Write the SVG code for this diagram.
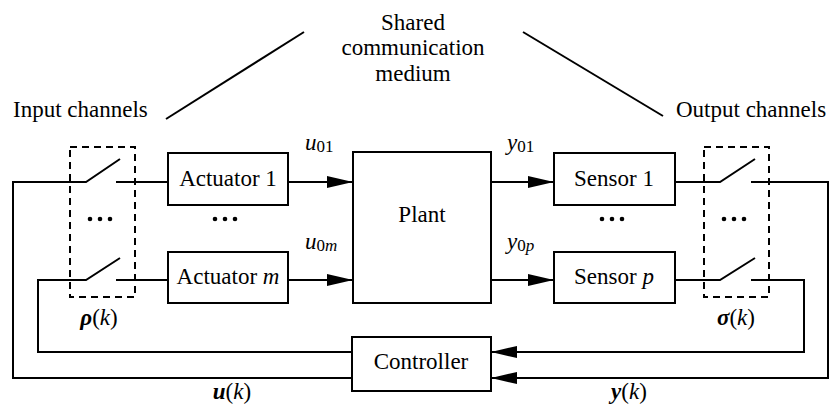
<svg xmlns="http://www.w3.org/2000/svg" width="832" height="405" viewBox="0 0 832 405">
<style>
text{font-family:'Liberation Serif';font-size:23px;fill:#000}
.box{fill:#fff;stroke:#000;stroke-width:2}
.w{fill:none;stroke:#000;stroke-width:2}
.dash{fill:none;stroke:#000;stroke-width:2;stroke-dasharray:7,5}
.i{font-style:italic}
.bi{font-style:italic;font-weight:bold}
.sub{font-size:17px}
.c{text-anchor:middle}
</style>
<defs>
<marker id="ah" markerUnits="userSpaceOnUse" markerWidth="26" markerHeight="12" refX="26" refY="6" orient="auto">
<path d="M0,0 L26,6 L0,12 Z" fill="#000"/>
</marker>
</defs>
<rect width="832" height="405" fill="#fff"/>
<g id="medium-lines">
<line class="w" x1="166" y1="119" x2="304" y2="32"/>
<line class="w" x1="523" y1="32" x2="663" y2="116"/>
</g>
<g id="labels-top">
<text class="c" x="413" y="30">Shared</text>
<text class="c" x="413" y="55">communication</text>
<text class="c" x="413" y="81">medium</text>
<text x="13" y="117">Input channels</text>
<text x="676" y="117">Output channels</text>
</g>
<g id="input-channels">
<rect class="dash" x="70" y="147" width="65" height="150"/>
<circle cx="90" cy="219" r="2.3"/><circle cx="100" cy="219" r="2.3"/><circle cx="110" cy="219" r="2.3"/>
<text class="c" x="99" y="325"><tspan class="bi">ρ</tspan>(<tspan class="i">k</tspan>)</text>
</g>
<g id="output-channels">
<rect class="dash" x="704" y="147" width="65" height="150"/>
<circle cx="724" cy="219" r="2.3"/><circle cx="734" cy="219" r="2.3"/><circle cx="744" cy="219" r="2.3"/>
<text class="c" x="736" y="325"><tspan class="bi">σ</tspan>(<tspan class="i">k</tspan>)</text>
</g>
<g id="actuator1">
<rect class="box" x="168" y="153" width="120" height="52"/>
<text class="c" x="228" y="186">Actuator 1</text>
</g>
<g id="actuator-dots">
<circle cx="215" cy="219" r="2.3"/><circle cx="225" cy="219" r="2.3"/><circle cx="235" cy="219" r="2.3"/>
</g>
<g id="actuatorm">
<rect class="box" x="168" y="252" width="120" height="51"/>
<text class="c" x="228" y="284">Actuator <tspan class="i">m</tspan></text>
</g>
<g id="plant">
<rect class="box" x="353" y="152" width="138" height="151"/>
<text class="c" x="422" y="222">Plant</text>
</g>
<g id="sensor1">
<rect class="box" x="554" y="153" width="121" height="52"/>
<text class="c" x="614" y="186">Sensor 1</text>
</g>
<g id="sensor-dots">
<circle cx="602" cy="219" r="2.3"/><circle cx="612" cy="219" r="2.3"/><circle cx="622" cy="219" r="2.3"/>
</g>
<g id="sensorp">
<rect class="box" x="554" y="252" width="121" height="51"/>
<text class="c" x="614" y="284">Sensor <tspan class="i">p</tspan></text>
</g>
<g id="controller">
<rect class="box" x="352" y="337" width="139" height="54"/>
<text class="c" x="421" y="369">Controller</text>
</g>
<g id="connectors">
<polyline class="w" points="352,378 13,378 13,182 86,182 120,159"/>
<line class="w" x1="116" y1="182" x2="168" y2="182"/>
<polyline class="w" points="352,352 38,352 38,280 86,280 120,258"/>
<line class="w" x1="116" y1="280" x2="168" y2="280"/>
<line class="w" x1="288" y1="182" x2="353" y2="182" marker-end="url(#ah)"/>
<line class="w" x1="288" y1="280" x2="353" y2="280" marker-end="url(#ah)"/>
<line class="w" x1="491" y1="182" x2="554" y2="182" marker-end="url(#ah)"/>
<line class="w" x1="491" y1="280" x2="554" y2="280" marker-end="url(#ah)"/>
<polyline class="w" points="675,182 720,182 755,159"/>
<polyline class="w" points="751,182 828,182 828,378 491,378" marker-end="url(#ah)"/>
<polyline class="w" points="675,280 720,280 755,258"/>
<polyline class="w" points="751,280 804,280 804,352 491,352" marker-end="url(#ah)"/>
</g>
<g id="signal-labels">
<text x="305" y="150"><tspan class="i">u</tspan><tspan class="sub" dy="2">01</tspan></text>
<text x="305" y="249"><tspan class="i">u</tspan><tspan class="sub" dy="2">0</tspan><tspan class="sub i">m</tspan></text>
<text x="507" y="150"><tspan class="i">y</tspan><tspan class="sub" dy="2">01</tspan></text>
<text x="507" y="249"><tspan class="i">y</tspan><tspan class="sub" dy="2">0</tspan><tspan class="sub i">p</tspan></text>
<text class="c" x="232" y="399"><tspan class="bi">u</tspan>(<tspan class="i">k</tspan>)</text>
<text class="c" x="629" y="399"><tspan class="bi">y</tspan>(<tspan class="i">k</tspan>)</text>
</g>
</svg>
